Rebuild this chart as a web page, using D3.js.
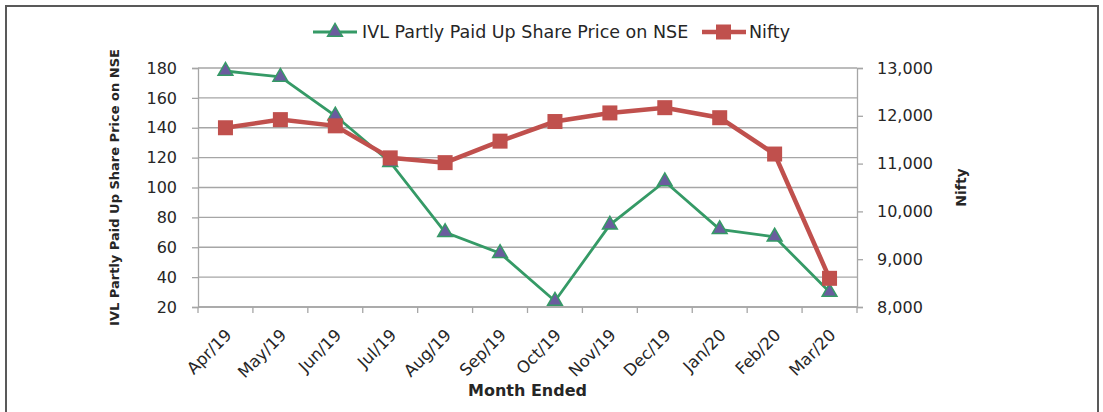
<!DOCTYPE html>
<html lang="en">
<head>
  <meta charset="UTF-8">
  <title>IVL Partly Paid Up vs Nifty</title>
  <script src="https://d3js.org/d3.v7.min.js"></script>
  <style>
    body { margin: 0; background: #fff; }
    text { font-family: "DejaVu Sans", sans-serif; fill: #262626; }
  </style>
</head>
<body>
  <script>
    // data
    var months = ["Apr/19", "May/19", "Jun/19", "Jul/19", "Aug/19", "Sep/19",
      "Oct/19", "Nov/19", "Dec/19", "Jan/20", "Feb/20", "Mar/20"];
    var ivlPrice = [178, 174, 148, 117, 70, 56, 24, 75, 104, 72, 67, 30];
    var nifty = [11750, 11920, 11790, 11120, 11020, 11470, 11880, 12060, 12170, 11960, 11200, 8600];
    var leftTicks = [20, 40, 60, 80, 100, 120, 140, 160, 180];
    var rightTicks = [8000, 9000, 10000, 11000, 12000, 13000];

    var W = 1103, H = 412;
    var margin = { top: 68, right: 246, bottom: 105, left: 198 };
    var width = W - margin.left - margin.right;
    var height = H - margin.top - margin.bottom;

    var green = "#359a66", purple = "#6a5c9e", red = "#c0504d", axisGrey = "#a6a6a6";

    var svg = d3.select("body").append("svg")
      .attr("width", W)
      .attr("height", H);

    // outer frame
    svg.append("rect")
      .attr("x", 6).attr("y", 6)
      .attr("width", 1092).attr("height", 420)
      .attr("fill", "none")
      .attr("stroke", "#595959")
      .attr("stroke-width", 2);

    var g = svg.append("g")
      .attr("transform", "translate(" + margin.left + "," + margin.top + ")");

    var x = d3.scaleBand().domain(months).range([0, width]);
    var yL = d3.scaleLinear().domain([20, 180]).range([height, 0]);
    var yR = d3.scaleLinear().domain([8000, 13000]).range([height, 0]);

    // gridlines
    g.append("g")
      .selectAll("line")
      .data(leftTicks)
      .enter().append("line")
      .attr("x1", 0).attr("x2", width)
      .attr("y1", function (d) { return yL(d); })
      .attr("y2", function (d) { return yL(d); })
      .attr("stroke", axisGrey)
      .attr("stroke-width", 1.3);

    // left axis
    var axL = g.append("g")
      .call(d3.axisLeft(yL).tickValues(leftTicks).tickSize(6).tickPadding(15));
    axL.selectAll("text").style("font-size", "16px").attr("fill", "#262626");

    // right axis
    var axR = g.append("g")
      .attr("transform", "translate(" + width + ",0)")
      .call(d3.axisRight(yR).tickValues(rightTicks).tickSize(6).tickPadding(14)
        .tickFormat(d3.format(",")));
    axR.selectAll("text").style("font-size", "16px").attr("fill", "#262626");

    // bottom axis: ticks on category boundaries
    var axB = g.append("g")
      .attr("transform", "translate(0," + height + ")");
    axB.append("line")
      .attr("x1", 0).attr("x2", width)
      .attr("stroke", axisGrey).attr("stroke-width", 1.3);
    axB.selectAll(".tk")
      .data(d3.range(months.length + 1))
      .enter().append("line")
      .attr("x1", function (i) { return i * x.step(); })
      .attr("x2", function (i) { return i * x.step(); })
      .attr("y1", 0).attr("y2", 6)
      .attr("stroke", axisGrey).attr("stroke-width", 1.3);
    axB.selectAll(".lbl")
      .data(months)
      .enter().append("text")
      .attr("transform", function (d) {
        return "translate(" + (x(d) + x.bandwidth() / 2 - 1) + ",21) rotate(-45)";
      })
      .attr("text-anchor", "end")
      .attr("dy", "0.7em")
      .style("font-size", "16.5px")
      .text(function (d) { return d; });

    [axL, axR].forEach(function (a) {
      a.select(".domain").attr("stroke", axisGrey).attr("stroke-width", 1.3);
      a.selectAll(".tick line").attr("stroke", axisGrey).attr("stroke-width", 1.3);
    });

    // lines
    var cx = function (d, i) { return x(months[i]) + x.bandwidth() / 2; };

    g.append("path")
      .datum(ivlPrice)
      .attr("fill", "none")
      .attr("stroke", green)
      .attr("stroke-width", 2.8)
      .attr("d", d3.line().x(cx).y(function (d) { return yL(d); }));

    g.append("path")
      .datum(nifty)
      .attr("fill", "none")
      .attr("stroke", red)
      .attr("stroke-width", 4.5)
      .attr("d", d3.line().x(cx).y(function (d) { return yR(d); }));

    var tri = d3.symbol().type(d3.symbolTriangle).size(95);
    g.selectAll(".tri")
      .data(ivlPrice)
      .enter().append("path")
      .attr("d", tri)
      .attr("transform", function (d, i) { return "translate(" + cx(d, i) + "," + yL(d) + ")"; })
      .attr("fill", purple)
      .attr("stroke", green)
      .attr("stroke-width", 1.5);

    g.selectAll(".sq")
      .data(nifty)
      .enter().append("rect")
      .attr("x", function (d, i) { return cx(d, i) - 7.5; })
      .attr("y", function (d) { return yR(d) - 7.5; })
      .attr("width", 15).attr("height", 15)
      .attr("fill", red);

    // axis titles
    svg.append("text")
      .attr("transform", "translate(119," + (margin.top + height / 2) + ") rotate(-90)")
      .attr("text-anchor", "middle")
      .style("font-size", "13px")
      .style("font-weight", "bold")
      .text("IVL Partly Paid Up Share Price on NSE");

    svg.append("text")
      .attr("transform", "translate(966," + (margin.top + height / 2) + ") rotate(-90)")
      .attr("text-anchor", "middle")
      .style("font-size", "14px")
      .style("font-weight", "bold")
      .text("Nifty");

    svg.append("text")
      .attr("x", margin.left + width / 2)
      .attr("y", 396)
      .attr("text-anchor", "middle")
      .style("font-size", "16px")
      .style("font-weight", "bold")
      .text("Month Ended");

    // legend
    var legend = svg.append("g").attr("transform", "translate(0,32)");
    legend.append("line")
      .attr("x1", 313).attr("x2", 357)
      .attr("stroke", green).attr("stroke-width", 2.8);
    legend.append("path")
      .attr("d", tri)
      .attr("transform", "translate(335,0)")
      .attr("fill", purple).attr("stroke", green).attr("stroke-width", 1.5);
    legend.append("text")
      .attr("x", 362).attr("dy", "0.35em")
      .style("font-size", "17.5px")
      .text("IVL Partly Paid Up Share Price on NSE");

    legend.append("line")
      .attr("x1", 702).attr("x2", 746)
      .attr("stroke", red).attr("stroke-width", 4.5);
    legend.append("rect")
      .attr("x", 716).attr("y", -7.5)
      .attr("width", 15).attr("height", 15)
      .attr("fill", red);
    legend.append("text")
      .attr("x", 749).attr("dy", "0.35em")
      .style("font-size", "17.5px")
      .text("Nifty");
  </script>
</body>
</html>
